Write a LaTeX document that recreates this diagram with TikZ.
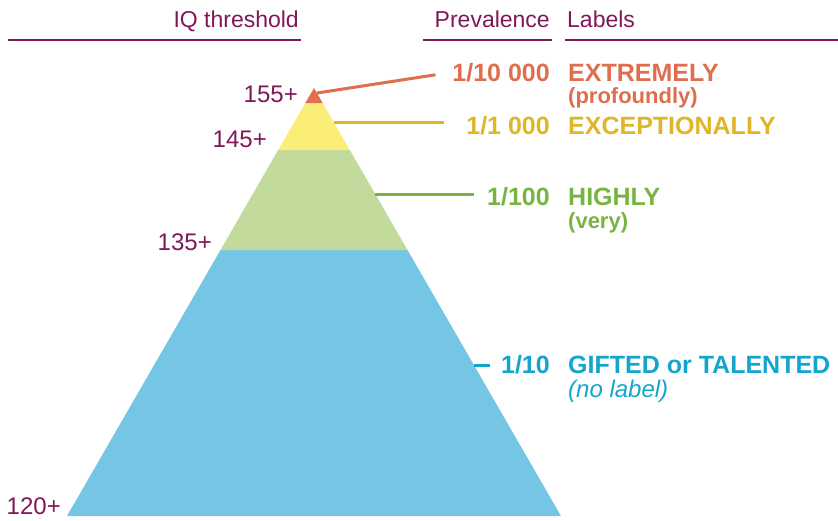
\documentclass[tikz,border=0pt]{standalone}
\usepackage{fontspec}
\setmainfont{Liberation Sans}
\usetikzlibrary{positioning}
\definecolor{iqpurple}{RGB}{128,24,88}
\definecolor{xred}{RGB}{222,110,78}
\definecolor{redfill}{RGB}{226,112,80}
\definecolor{xyellow}{RGB}{222,182,40}
\definecolor{yelfill}{RGB}{250,238,120}
\definecolor{xgreen}{RGB}{120,180,65}
\definecolor{grnfill}{RGB}{194,218,155}
\definecolor{xblue}{RGB}{20,165,205}
\definecolor{blufill}{RGB}{116,198,228}

\begin{document}
\begin{tikzpicture}[x=1pt,y=-1pt,
				head/.style={text=iqpurple,font=\fontsize{23}{26}\selectfont,inner sep=0pt},
				rule/.style={iqpurple,line width=2pt},
				iq/.style={text=iqpurple,font=\fontsize{24}{27}\selectfont,inner sep=0pt,anchor=base east},
				prev/.style={font=\bfseries\fontsize{25}{28}\selectfont,inner sep=0pt,anchor=base east},
				lbl/.style={font=\bfseries\fontsize{25}{28}\selectfont,inner sep=0pt},
				sub/.style={font=\bfseries\fontsize{22}{25}\selectfont,inner sep=0pt},
				tie/.style={line width=3pt}]
				\useasboundingbox (0,0) rectangle (838,520);
				% headers
				\node[head,anchor=base east] (hiq)   at (299,27) {IQ threshold};
				\node[head,anchor=base east] (hprev) at (550,27) {Prevalence};
				\node[head,anchor=base west] (hlab)  at (567,27) {Labels};
				\draw[rule] (8,40) -- (301,40);
				\draw[rule] (423,40) -- (552,40);
				\draw[rule] (565,40) -- (838,40);
				% pyramid
				\fill[blufill] (220.5,250) -- (407.5,250) -- (561,516) -- (67,516) -- cycle;
				\fill[grnfill] (278.2,150) -- (349.8,150) -- (407.5,250) -- (220.5,250) -- cycle;
				\fill[yelfill] (305.3,103) -- (322.7,103) -- (349.8,150) -- (278.2,150) -- cycle;
				\fill[redfill] (314,88) -- (322.7,103) -- (305.3,103) -- cycle;
				\coordinate (cred) at (317,93);
				\coordinate (cyel) at (333.6,122);
				\coordinate (cgrn) at (375.2,194);
				\coordinate (cblu) at (473.8,365);
				% thresholds
				\node[iq] (q155) at (298,102) {155+};
				\node[iq] (q145) at (267,147) {145+};
				\node[iq] (q135) at (212,250) {135+};
				\node[iq] (q120) at (61,514) {120+};
				% prevalence and labels
				\node[prev,text=xred]    (p1) at (550,81)  {1/10 000};
				\node[prev,text=xyellow] (p2) at (550,134) {1/1 000};
				\node[prev,text=xgreen]  (p3) at (550,205) {1/100};
				\node[prev,text=xblue]   (p4) at (550,373) {1/10};
				\node[lbl,text=xred,base right=18pt of p1]    (l1) {EXTREMELY};
				\node[lbl,text=xyellow,base right=18pt of p2] (l2) {EXCEPTIONALLY};
				\node[lbl,text=xgreen,base right=18pt of p3]  (l3) {HIGHLY};
				\node[lbl,text=xblue,base right=18pt of p4]   (l4) {GIFTED or TALENTED};
				\node[sub,text=xred,below right=6pt and 0pt of l1.south west]   (s1) {(profoundly)};
				\node[sub,text=xgreen,below right=7pt and 0pt of l3.south west] (s3) {(very)};
				\node[text=xblue,inner sep=0pt,font=\itshape\fontsize{24}{27}\selectfont,
				below right=6pt and 0pt of l4.south west] (s4) {(no label)};
				% ties
				\draw[tie,xred,shorten >=17pt] (cred) -- (p1.west);
				\draw[tie,xyellow,shorten >=22pt] (cyel) -- (cyel -| p2.west);
				\draw[tie,xgreen,shorten >=13pt] (cgrn) -- (cgrn -| p3.west);
				\draw[tie,xblue,shorten >=11pt] (cblu) -- (cblu -| p4.west);
			\end{tikzpicture}
\end{document}
